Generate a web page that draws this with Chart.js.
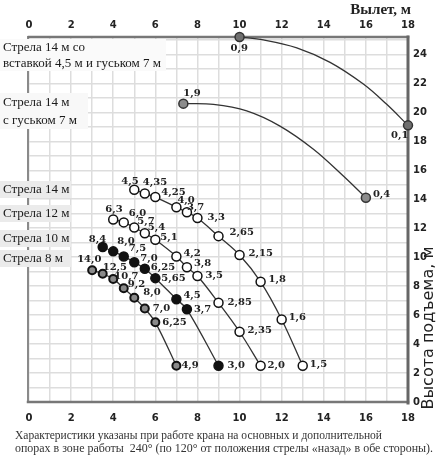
<!DOCTYPE html>
<html>
<head>
<meta charset="utf-8">
<script src="https://cdn.jsdelivr.net/npm/chart.js@4.4.1/dist/chart.umd.min.js"></script>
<style>
  html, body { margin: 0; padding: 0; background: #fff; }
  canvas { display: block; }
</style>
</head>
<body>
<canvas id="crane" width="436" height="457"></canvas>
<script>
// Вылет, м (x) и высота подъема, м (y); подписи — грузоподъемность, т
const boom8X = [3, 3.5, 4, 4.5, 5, 5.5, 6, 7];
const boom8Y = [9.1, 8.85, 8.5, 7.85, 7.2, 6.45, 5.5, 2.5];
const boom8Load = ["14,0", "12,5", "10,7", "9,2", "8,0", "7,0", "6,25", "4,9"];

const boom10X = [3.5, 4, 4.5, 5, 5.5, 6, 7, 7.5, 9];
const boom10Y = [10.7, 10.4, 10.05, 9.65, 9.2, 8.55, 7.1, 6.4, 2.5];
const boom10Load = ["8,4", "8,0", "7,5", "7,0", "6,25", "5,65", "4,5", "3,7", "3,0"];

const boom12X = [4, 4.5, 5, 5.5, 6, 7, 7.5, 8, 9, 10, 11];
const boom12Y = [12.6, 12.4, 12.05, 11.65, 11.2, 10.05, 9.3, 8.7, 6.85, 4.85, 2.5];
const boom12Load = ["6,3", "6,0", "5,7", "5,4", "5,1", "4,2", "3,8", "3,5", "2,85", "2,35", "2,0"];

const boom14X = [5, 5.5, 6, 7, 7.5, 8, 9, 10, 11, 12, 13];
const boom14Y = [14.65, 14.4, 14.15, 13.45, 13.1, 12.7, 11.45, 10.15, 8.3, 5.7, 2.5];
const boom14Load = ["4,5", "4,35", "4,25", "4,0", "3,7", "3,3", "2,65", "2,15", "1,8", "1,6", "1,5"];

// стрела 14 м с гуськом 7 м — линия, отмечены только концы
const jibX = [7.33, 8.76, 10.34, 11.92, 13.51, 14.93, 16.0];
const jibY = [20.6, 20.55, 20.1, 19.05, 17.45, 15.6, 14.1];
const jibLoad = ["1,9", null, null, null, null, null, "0,4"];

// стрела 14 м со вставкой 4,5 м и гуськом 7 м
const insertX = [10, 11.13, 12.72, 14.3, 15.88, 16.99, 18];
const insertY = [25.2, 25.0, 24.45, 23.45, 21.95, 20.55, 19.1];
const insertLoad = ["0,9", null, null, null, null, null, "0,1"];

const xTicks = [0, 1, 2, 3, 4, 5, 6, 7, 8, 9, 10, 11, 12, 13, 14, 15, 16, 17, 18];
const yTicks = [0, 1, 2, 3, 4, 5, 6, 7, 8, 9, 10, 11, 12, 13, 14, 15, 16, 17, 18, 19, 20, 21, 22, 23, 24, 25];
const yMax = 25.2;

// смещения подписей относительно точек (левый край текста, середина по высоте)
const boom8Off = [[-15, -11], [0, -6], [1, -2], [4, -4], [9, -5], [8, 0], [7, 0], [5, 0]];
const boom10Off = [[-14, -8], [4, -10], [5, -8], [6, -4], [6, -1], [6, 0], [7, -4], [7, 0], [9, 0]];
const boom12Off = [[-8, -10], [5, -9], [3, -6], [3, -6], [5, -2], [7, -3], [7, -4], [8, -1], [9, 0], [8, -1], [7, 0]];
const boom14Off = [[-13, -8], [-2, -11], [6, -5], [1, -7], [0, -5], [10, -1], [11, -4], [9, -2], [8, -2], [7, -2], [7, -1]];
const jibOff = [[0, -10], null, null, null, null, null, [7, -3]];
const insertOff = [[-9, 11], null, null, null, null, null, [-17, 10]];

function pts(xs, ys) {
  return xs.map((x, i) => ({ x: x, y: ys[i] }));
}

function series(xs, ys, loads, offs, style) {
  return Object.assign({
    data: pts(xs, ys),
    loads: loads,
    offs: offs,
    borderColor: "#333",
    borderWidth: 1.3,
    tension: 0.35,
    clip: false,
    pointBorderWidth: 1.5,
    pointBorderColor: "#111",
    pointRadius: ctx => loads[ctx.dataIndex] ? style.r : 0
  }, style);
}

const loadLabels = {
  id: "loadLabels",
  afterDatasetsDraw(chart) {
    const ctx = chart.ctx;
    ctx.save();
    ctx.font = "bold 10px 'DejaVu Serif'";
    ctx.fillStyle = "#222";
    ctx.textBaseline = "middle";
    ctx.textAlign = "left";
    chart.data.datasets.forEach((ds, di) => {
      const meta = chart.getDatasetMeta(di);
      ds.loads.forEach((t, i) => {
        if (!t) return;
        const p = meta.data[i];
        const o = ds.offs[i];
        ctx.fillText(t, p.x + o[0], p.y + o[1]);
      });
    });
    ctx.restore();
  }
};

const frame = {
  id: "frame",
  beforeDatasetsDraw(chart) {
    const a = chart.chartArea;
    const ctx = chart.ctx;
    ctx.save();
    ctx.lineCap = "square";
    ctx.strokeStyle = "#8a8a8a";
    ctx.lineWidth = 2;
    ctx.beginPath(); ctx.moveTo(a.left - 1, a.top); ctx.lineTo(a.left - 1, a.bottom); ctx.stroke();
    ctx.strokeStyle = "#777";
    ctx.lineWidth = 2.5;
    ctx.beginPath(); ctx.moveTo(a.left, a.top); ctx.lineTo(a.right, a.top); ctx.stroke();
    ctx.beginPath(); ctx.moveTo(a.left - 1, a.bottom); ctx.lineTo(a.right, a.bottom); ctx.stroke();
    ctx.strokeStyle = "#666";
    ctx.lineWidth = 3;
    ctx.beginPath(); ctx.moveTo(a.right, a.top); ctx.lineTo(a.right, a.bottom + 1); ctx.stroke();
    ctx.restore();
  },
  afterDraw(chart) {
    const ctx = chart.ctx;
    const xs = chart.scales.x;
    ctx.save();
    // верхняя шкала вылета
    ctx.font = "bold 10px 'DejaVu Sans'";
    ctx.fillStyle = "#222";
    ctx.textAlign = "center";
    ctx.textBaseline = "middle";
    xTicks.filter(v => v % 2 === 0).forEach(v => ctx.fillText(v, xs.getPixelForValue(v), 25));
    // подписи стрел
    const boxes = [
      { lines: ["Стрела 14 м со", "вставкой 4,5 м и гуськом 7 м"], x: 0, y: 39, w: 166, h: 32, fill: "#fafafa" },
      { lines: ["Стрела 14 м", "с гуськом 7 м"], x: 0, y: 93, w: 88, h: 36, fill: "#f8f8f8" },
      { lines: ["Стрела 14 м"], x: 0, y: 181, w: 71, h: 17, fill: "#ebebeb" },
      { lines: ["Стрела 12 м"], x: 0, y: 205, w: 71, h: 17, fill: "#ebebeb" },
      { lines: ["Стрела 10 м"], x: 0, y: 230, w: 71, h: 17, fill: "#ebebeb" },
      { lines: ["Стрела 8 м"], x: 0, y: 250, w: 71, h: 17, fill: "#ebebeb" }
    ];
    ctx.textAlign = "left";
    boxes.forEach(b => {
      ctx.fillStyle = b.fill;
      ctx.fillRect(b.x, b.y, b.w, b.h);
      ctx.fillStyle = "#1a1a1a";
      ctx.font = "13px 'Liberation Serif'";
      const step = b.lines.length > 1 ? b.h / 2 : b.h;
      b.lines.forEach((l, i) => ctx.fillText(l, 3, b.y + step * i + step / 2 + 0.5));
    });
    // заголовок оси X
    ctx.font = "bold 15px 'Liberation Serif'";
    ctx.fillStyle = "#222";
    ctx.textAlign = "right";
    ctx.fillText("Вылет, м", 411, 10);
    // заголовок оси Y
    ctx.save();
    ctx.translate(429, 328);
    ctx.rotate(-Math.PI / 2);
    ctx.textAlign = "center";
    ctx.font = "16px 'DejaVu Sans'";
    ctx.fillStyle = "#222";
    ctx.fillText("Высота подъема, м", 0, 0);
    ctx.restore();
    // примечание
    ctx.textAlign = "left";
    ctx.fillStyle = "#333";
    ctx.font = "12px 'Liberation Serif'";
    ctx.fillText("Характеристики указаны при работе крана на основных и дополнительной", 15, 436, 367);
    ctx.fillText("опорах в зоне работы  240° (по 120° от положения стрелы «назад» в обе стороны).", 15, 449, 418);
    ctx.restore();
  }
};

const tickFont = { family: "'DejaVu Sans'", size: 10, weight: "bold" };
const evenOnly = v => (v % 2 === 0 ? v : "");

new Chart(document.getElementById("crane"), {
  type: "line",
  data: {
    datasets: [
      series(insertX, insertY, insertLoad, insertOff, { r: 4.5, pointBackgroundColor: "#6f6f6f", pointBorderColor: "#333" }),
      series(jibX, jibY, jibLoad, jibOff, { r: 4.5, pointBackgroundColor: "#8c8c8c", pointBorderColor: "#333" }),
      series(boom14X, boom14Y, boom14Load, boom14Off, { r: 4.5, pointBackgroundColor: "#fff" }),
      series(boom12X, boom12Y, boom12Load, boom12Off, { r: 4.5, pointBackgroundColor: "#fff" }),
      series(boom10X, boom10Y, boom10Load, boom10Off, { r: 4.5, pointBackgroundColor: "#111" }),
      series(boom8X, boom8Y, boom8Load, boom8Off, { r: 4, pointBackgroundColor: "#8a8a8a", pointBorderWidth: 2 })
    ]
  },
  options: {
    responsive: false,
    animation: false,
    layout: { padding: { left: 29, top: 37, right: 0, bottom: 0 } },
    plugins: { legend: { display: false }, tooltip: { enabled: false } },
    scales: {
      x: {
        type: "linear", position: "bottom", min: 0, max: 18,
        afterBuildTicks: s => { s.ticks = xTicks.map(v => ({ value: v })); },
        afterFit: s => { s.height = 55; },
        ticks: { callback: evenOnly, font: tickFont, color: "#222", padding: 10, autoSkip: false, maxRotation: 0 },
        grid: { color: "#dddddd", lineWidth: 1.5, drawTicks: false },
        border: { display: false }
      },
      y: {
        type: "linear", position: "right", min: 0, max: yMax,
        afterBuildTicks: s => { s.ticks = yTicks.map(v => ({ value: v })); },
        afterFit: s => { s.width = 28; },
        ticks: { callback: evenOnly, font: tickFont, color: "#222", padding: 5, autoSkip: false },
        grid: { color: "#dddddd", lineWidth: 1.5, drawTicks: false },
        border: { display: false }
      }
    }
  },
  plugins: [frame, loadLabels]
});
</script>
</body>
</html>
